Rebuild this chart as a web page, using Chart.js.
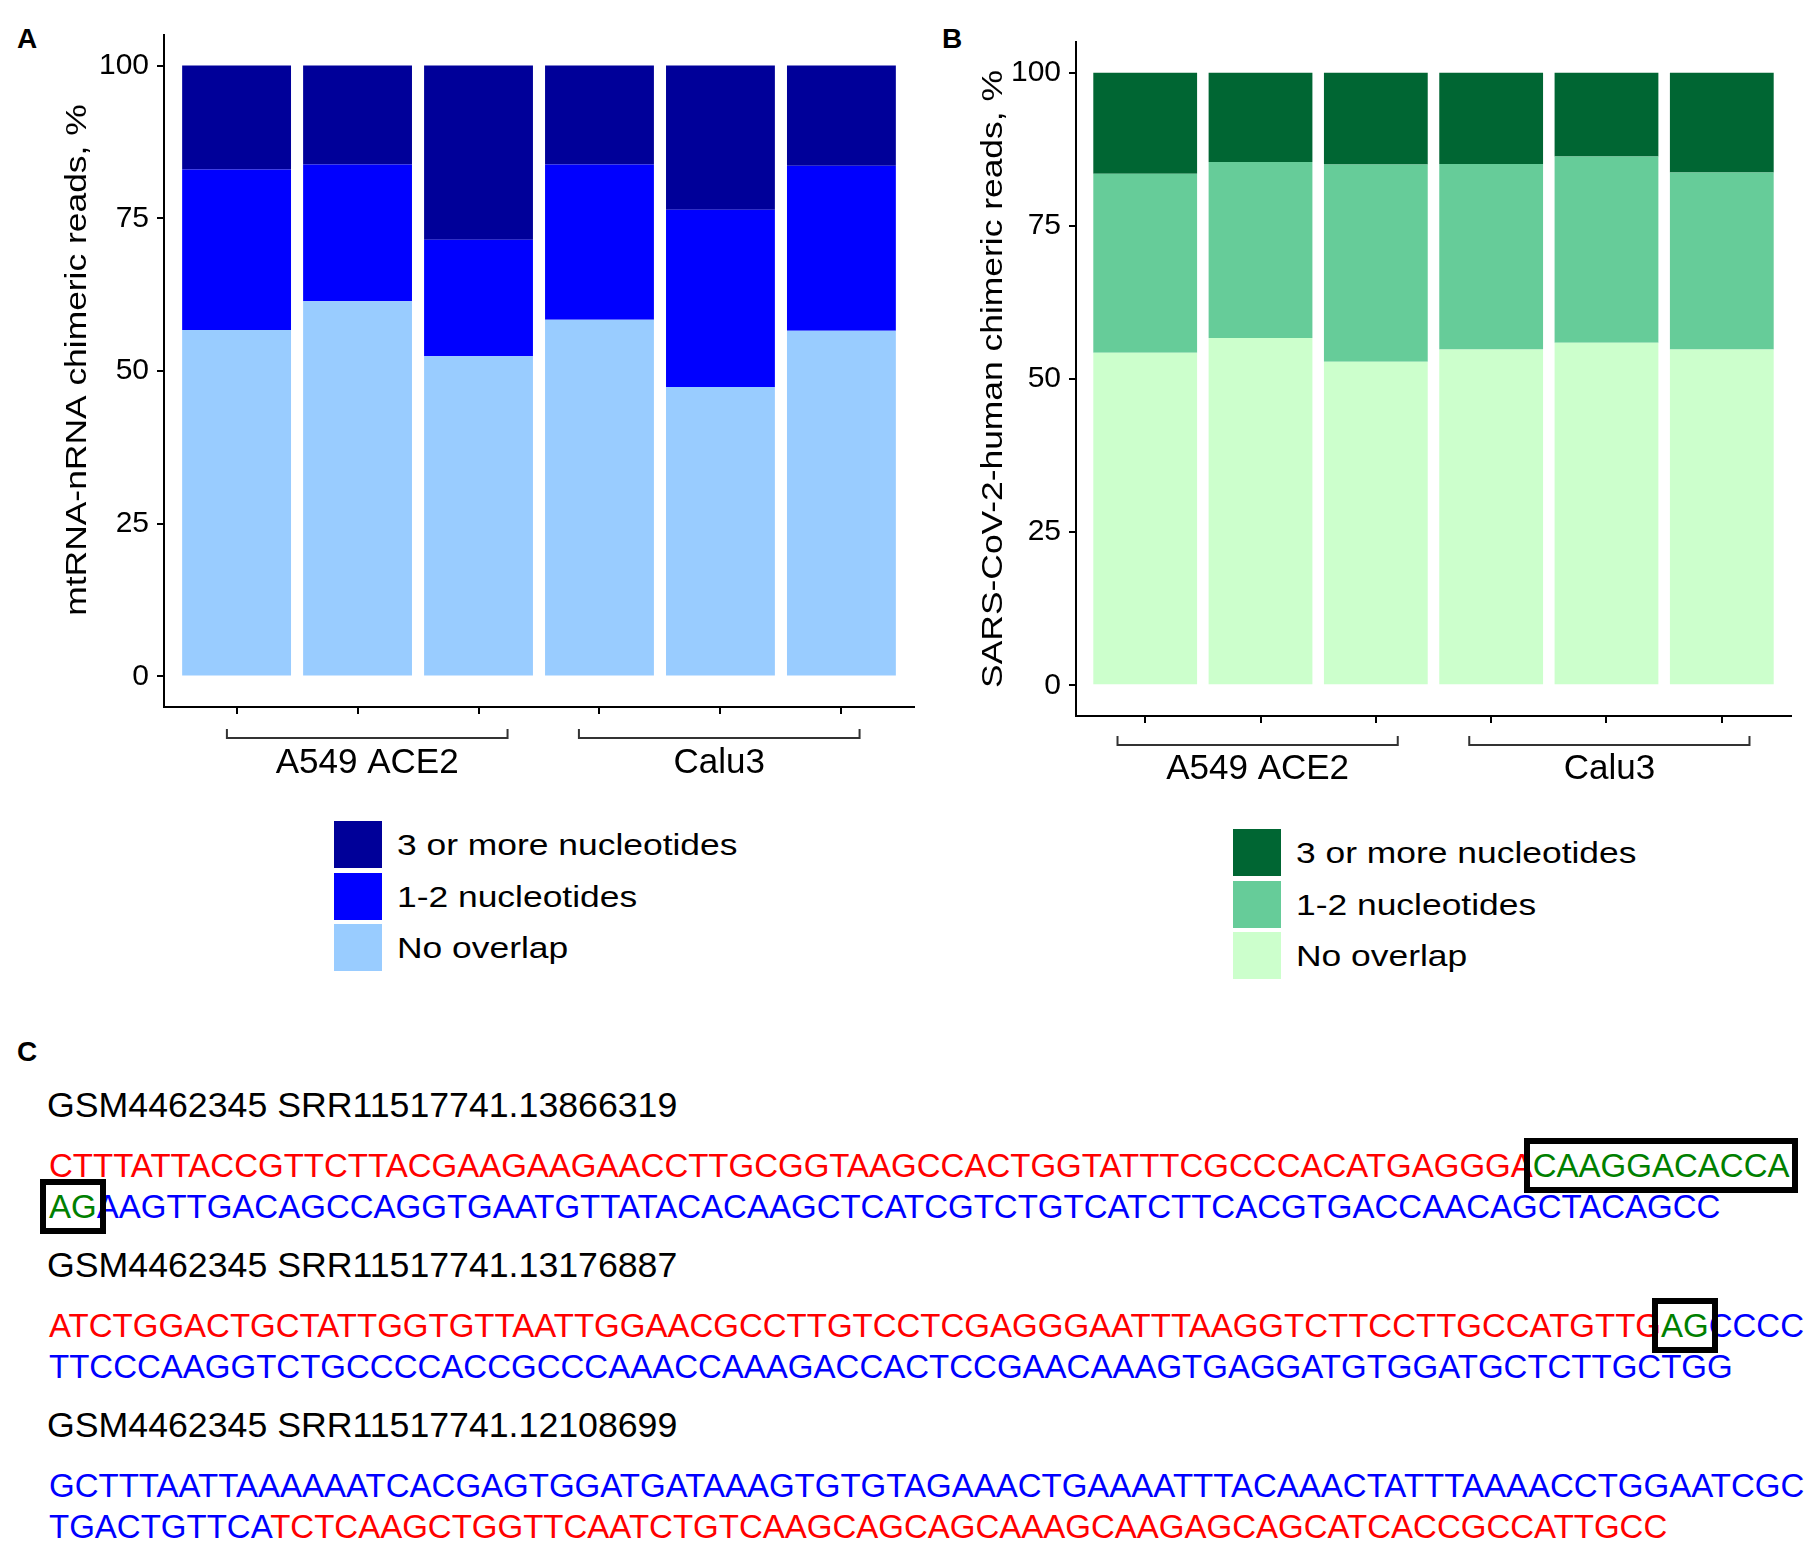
<!DOCTYPE html>
<html>
<head>
<meta charset="utf-8">
<script src="https://cdn.jsdelivr.net/npm/chart.js@4.4.1/dist/chart.umd.min.js"></script>
<style>
  html, body { margin: 0; padding: 0; background: #fff; }
  body { width: 1808px; height: 1546px; position: relative; overflow: hidden;
         font-family: "Liberation Sans", Arial, sans-serif; color: #000; }
  canvas { position: absolute; }
  .tag { position: absolute; font-weight: bold; font-size: 28px; line-height: 28px; }
  .legend { position: absolute; }
  .legend .row { display: flex; align-items: flex-start; height: 51.5px; }
  .legend .key { width: 48px; height: 47px; flex: none; }
  .legend .txt { font-size: 30px; line-height: 47px; margin-left: 15px; white-space: nowrap;
                 transform: scaleX(1.18); transform-origin: left center; }
  .line { position: absolute; white-space: nowrap; line-height: 1; }
  .hdr { font-size: 35.7px; }
  .seq { font-size: 33px; }
  .box { outline: 6px solid #000; outline-offset: 3px; }
</style>
</head>
<body>
<div class="tag" style="left:17px;top:25px">A</div>
<div class="tag" style="left:942px;top:25px">B</div>
<div class="tag" style="left:17px;top:1038px">C</div>

<canvas id="chartA" width="930" height="790" style="left:0;top:0"></canvas>
<canvas id="chartB" width="908" height="800" style="left:900px;top:0"></canvas>
<div class="legend" id="legendA" style="left:334px;top:821px"></div>
<div class="legend" id="legendB" style="left:1233px;top:829px"></div>
<div id="reads"></div>

<script>
// six libraries, three per cell line
const samples = [0, 1, 2, 3, 4, 5];
const groups = ['A549 ACE2', 'Calu3'];
const groupStart = [0, 3];
const groupEnd = [2, 5];
const seriesNames = ['No overlap', '1-2 nucleotides', '3 or more nucleotides'];
const yTicks = [0, 25, 50, 75, 100];

// A: mtRNA-nRNA chimeric reads, %
const mtNoOverlap = [56.7, 61.4, 52.4, 58.4, 47.4, 56.6];
const mtOneTwo = [26.3, 22.4, 19.1, 25.4, 29.0, 27.0];
const mtThreePlus = [17.0, 16.2, 28.5, 16.2, 23.6, 16.4];

// B: SARS-CoV-2-human chimeric reads, %
const covNoOverlap = [54.3, 56.7, 52.8, 54.8, 55.9, 54.8];
const covOneTwo = [29.2, 28.7, 32.2, 30.3, 30.4, 28.9];
const covThreePlus = [16.5, 14.6, 15.0, 14.9, 13.7, 16.3];

// C: example reads (r = red, b = blue, g = green, true = boxed overlap)
const readIds = [
    'GSM4462345 SRR11517741.13866319',
    'GSM4462345 SRR11517741.13176887',
    'GSM4462345 SRR11517741.12108699'
];
const readLines = [
    [
        [['CTTTATTACCGTTCTTACGAAGAAGAACCTTGCGGTAAGCCACTGGTATTTCGCCCACATGAGGGA', 'r'], ['CAAGGACACCA', 'g', true]],
        [['AG', 'g', true], ['AAGTTGACAGCCAGGTGAATGTTATACACAAGCTCATCGTCTGTCATCTTCACGTGACCAACAGCTACAGCC', 'b']]
    ],
    [
        [['ATCTGGACTGCTATTGGTGTTAATTGGAACGCCTTGTCCTCGAGGGAATTTAAGGTCTTCCTTGCCATGTTG', 'r'], ['AG', 'g', true], ['CCCC', 'b']],
        [['TTCCCAAGGTCTGCCCCACCGCCCAAACCAAAGACCACTCCGAACAAAGTGAGGATGTGGATGCTCTTGCTGG', 'b']]
    ],
    [
        [['GCTTTAATTAAAAAATCACGAGTGGATGATAAAGTGTGTAGAAACTGAAAATTTACAAACTATTTAAAACCTGGAATCGC', 'b']],
        [['TGACTGTTCA', 'b'], ['TCTCAAGCTGGTTCAATCTGTCAAGCAGCAGCAAAGCAAGAGCAGCATCACCGCCATTGCC', 'r']]
    ]
];

const fontFamily = '"Liberation Sans", Arial, sans-serif';
Chart.defaults.font.family = fontFamily;
Chart.defaults.color = '#000';

// group brackets + labels under the x axis
const groupBrackets = {
    id: 'groupBrackets',
    afterDraw(chart, args, o) {
        const ctx = chart.ctx;
        const xs = chart.scales.x;
        const base = xs.top;
        ctx.save();
        ctx.strokeStyle = '#333';
        ctx.lineWidth = 2;
        ctx.fillStyle = '#000';
        ctx.font = `35px ${fontFamily}`;
        ctx.textAlign = 'center';
        ctx.textBaseline = 'alphabetic';
        groups.forEach((name, g) => {
            const x1 = xs.getPixelForValue(groupStart[g] - o.padL[g]);
            const x2 = xs.getPixelForValue(groupEnd[g] + o.padR[g]);
            const y = base + o.lineDy;
            ctx.beginPath();
            ctx.moveTo(x1, y - 9);
            ctx.lineTo(x1, y);
            ctx.lineTo(x2, y);
            ctx.lineTo(x2, y - 9);
            ctx.stroke();
            ctx.fillText(name, (x1 + x2) / 2, base + o.textDy);
        });
        ctx.restore();
    }
};

// rotated y title, drawn a bit wider like the original figure
const sideTitle = {
    id: 'sideTitle',
    afterDraw(chart, args, o) {
        const {ctx, chartArea} = chart;
        ctx.save();
        ctx.translate(o.x, (chartArea.top + chartArea.bottom) / 2 + o.dy);
        ctx.rotate(-Math.PI / 2);
        ctx.scale(1.18, 1);
        ctx.font = `30px ${fontFamily}`;
        ctx.fillStyle = '#000';
        ctx.textAlign = 'center';
        ctx.textBaseline = 'middle';
        ctx.fillText(o.text, 0, 0);
        ctx.restore();
    }
};

function makePanel(canvas, o) {
    const datasets = o.values.map((vals, k) => ({
        label: seriesNames[k],
        data: vals.map((v, i) => ({ x: samples[i], y: v })),
        backgroundColor: o.colors[k],
        borderWidth: 0,
        barPercentage: 0.9,
        categoryPercentage: 1.0
    }));
    const axisGrid = { offset: false, drawOnChartArea: false, drawTicks: true, tickLength: 7,
                       lineWidth: 2, color: '#000' };
    const axisBorder = { display: true, color: '#000', width: 2 };
    return new Chart(canvas, {
        type: 'bar',
        data: { datasets },
        options: {
            responsive: false,
            animation: false,
            devicePixelRatio: 1,
            layout: { padding: { top: o.padTop, right: o.padRight, left: 0, bottom: 0 } },
            plugins: {
                legend: { display: false },
                tooltip: { enabled: false },
                groupBrackets: o.brackets,
                sideTitle: o.title
            },
            scales: {
                x: {
                    type: 'linear',
                    stacked: true,
                    min: -0.6,
                    max: 5.6,
                    offset: false,
                    afterBuildTicks: s => { s.ticks = samples.map(v => ({ value: v })); },
                    afterFit: s => { s.height = o.xHeight; },
                    ticks: { callback: () => '' },
                    grid: axisGrid,
                    border: axisBorder
                },
                y: {
                    stacked: true,
                    min: -5,
                    max: 105,
                    afterBuildTicks: s => { s.ticks = yTicks.map(v => ({ value: v })); },
                    afterFit: s => { s.width = o.yWidth; },
                    ticks: { font: { size: 30 }, color: '#000', padding: 8 },
                    grid: axisGrid,
                    border: axisBorder
                }
            }
        },
        plugins: [groupBrackets, sideTitle]
    });
}

function buildLegend(chart, el) {
    chart.data.datasets.slice().reverse().forEach(ds => {
        const row = document.createElement('div');
        row.className = 'row';
        const key = document.createElement('div');
        key.className = 'key';
        key.style.background = ds.backgroundColor;
        const txt = document.createElement('div');
        txt.className = 'txt';
        txt.textContent = ds.label;
        row.appendChild(key);
        row.appendChild(txt);
        el.appendChild(row);
    });
}

const chartA = makePanel(document.getElementById('chartA'), {
    values: [mtNoOverlap, mtOneTwo, mtThreePlus],
    colors: ['#99CCFF', '#0000FF', '#000099'],
    padTop: 35, padRight: 16, xHeight: 83, yWidth: 164,
    brackets: { padL: [0.08, 0.17], padR: [0.24, 0.15], lineDy: 31, textDy: 66 },
    title: { text: 'mtRNA-nRNA chimeric reads, %', x: 78, dy: -11 }
});

const chartB = makePanel(document.getElementById('chartB'), {
    values: [covNoOverlap, covOneTwo, covThreePlus],
    colors: ['#CCFFCC', '#66CC99', '#006633'],
    padTop: 42, padRight: 17, xHeight: 84, yWidth: 176,
    brackets: { padL: [0.24, 0.19], padR: [0.19, 0.24], lineDy: 29, textDy: 63 },
    title: { text: 'SARS-CoV-2-human chimeric reads, %', x: 94, dy: 0 }
});

buildLegend(chartA, document.getElementById('legendA'));
buildLegend(chartB, document.getElementById('legendB'));

// panel C text
const seqColors = { r: '#FF0000', b: '#0000FF', g: '#008000' };
const hdrSize = 35.7;
const seqSize = 33;
const reads = document.getElementById('reads');
const readPitch = 160;
readIds.forEach((id, k) => {
    const hdr = document.createElement('div');
    hdr.className = 'line hdr';
    hdr.style.left = '47px';
    hdr.style.top = (1118 + readPitch * k - 0.8465 * hdrSize) + 'px';
    hdr.textContent = id;
    reads.appendChild(hdr);

    readLines[k].forEach((segs, j) => {
        const line = document.createElement('div');
        line.className = 'line seq';
        line.style.left = '49px';
        line.style.top = (1177 + 41 * j + readPitch * k - 0.8465 * seqSize) + 'px';
        segs.forEach(([text, c, boxed]) => {
            const span = document.createElement('span');
            span.textContent = text;
            span.style.color = seqColors[c];
            if (boxed) span.className = 'box';
            line.appendChild(span);
        });
        reads.appendChild(line);
    });
});
</script>
</body>
</html>
